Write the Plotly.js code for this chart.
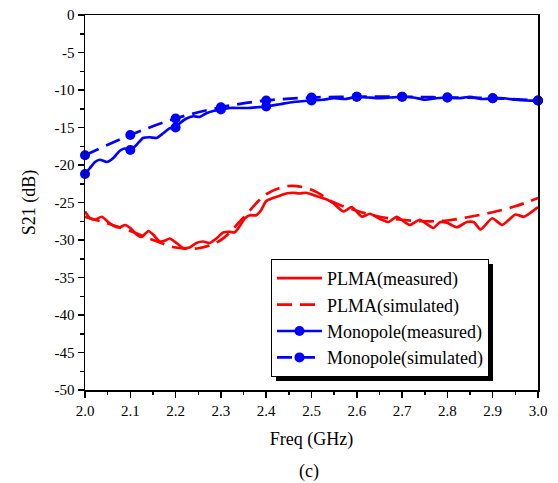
<!DOCTYPE html>
<html>
<head>
<meta charset="utf-8">
<script src="https://cdn.plot.ly/plotly-3.0.1.min.js"></script>
<style>html,body{margin:0;padding:0;background:#fff;}#chart{width:558px;height:483px;}</style>
</head>
<body>
<div id="chart"></div>
<script>
// PLMA measured (dense, ripple)
var plmaMeasF = [2.000,2.011,2.022,2.037,2.051,2.066,2.077,2.088,2.100,2.114,2.125,2.140,2.151,2.165,2.176,2.187,2.202,2.217,2.231,2.246,2.261,2.275,2.290,2.305,2.319,2.330,2.341,2.353,2.364,2.378,2.389,2.400,2.415,2.430,2.444,2.459,2.474,2.488,2.504,2.534,2.548,2.570,2.589,2.611,2.629,2.651,2.670,2.688,2.717,2.739,2.769,2.784,2.799,2.821,2.843,2.858,2.873,2.899,2.921,2.950,2.969,3.000];
var plmaMeasS = [-26.2,-27.1,-27.3,-26.9,-27.6,-28.2,-28.3,-28.0,-28.4,-29.3,-29.6,-28.8,-29.3,-30.2,-30.1,-29.8,-30.4,-31.1,-31.0,-30.4,-30.2,-30.4,-29.8,-29.0,-28.9,-29.0,-28.2,-27.1,-26.7,-26.7,-26.0,-24.8,-24.4,-24.1,-23.8,-23.7,-23.8,-23.7,-24.0,-24.6,-25.1,-26.2,-25.6,-26.9,-26.5,-27.2,-27.6,-26.9,-28.0,-27.3,-28.4,-27.6,-27.7,-28.3,-27.6,-27.6,-28.6,-27.1,-28.0,-26.6,-26.9,-25.6];

// PLMA simulated
var plmaSimF = [2.00,2.05,2.10,2.15,2.20,2.25,2.30,2.35,2.40,2.45,2.50,2.55,2.60,2.65,2.70,2.75,2.80,2.85,2.90,2.95,3.00];
var plmaSimS = [-26.9,-27.8,-28.8,-30.0,-31.0,-31.1,-30.0,-27.0,-23.9,-22.8,-23.3,-25.0,-26.1,-26.9,-27.3,-27.5,-27.4,-26.9,-26.3,-25.5,-24.4];

// Monopole measured (dense)
var monoMeasF = [2.000,2.011,2.022,2.033,2.048,2.062,2.077,2.088,2.100,2.114,2.128,2.143,2.158,2.172,2.187,2.200,2.210,2.224,2.239,2.253,2.268,2.283,2.300,2.320,2.340,2.360,2.380,2.400,2.430,2.460,2.500,2.525,2.550,2.575,2.600,2.625,2.650,2.675,2.700,2.725,2.750,2.775,2.800,2.825,2.850,2.875,2.900,2.925,2.950,2.975,3.000];
var monoMeasS = [-21.2,-20.4,-19.6,-19.3,-19.6,-19.1,-18.1,-17.8,-18.0,-17.3,-16.4,-16.3,-16.4,-15.8,-15.1,-15.0,-14.4,-13.8,-13.5,-13.6,-13.1,-12.8,-12.6,-12.4,-12.4,-12.4,-12.3,-12.2,-11.9,-11.6,-11.4,-11.3,-11.1,-11.2,-10.9,-11.0,-11.1,-11.0,-10.9,-11.0,-11.3,-11.1,-11.0,-11.1,-10.9,-11.2,-11.1,-11.1,-11.3,-11.4,-11.4];

// Monopole simulated
var monoSimF = [2.0,2.1,2.2,2.3,2.4,2.5,2.6,2.7,2.8,2.9,3.0];
var monoSimS = [-18.7,-16.0,-13.8,-12.3,-11.4,-11.0,-10.9,-10.9,-11.0,-11.1,-11.4];

var xTicks = [2.0,2.1,2.2,2.3,2.4,2.5,2.6,2.7,2.8,2.9,3.0];
var yTicks = [0,-5,-10,-15,-20,-25,-30,-35,-40,-45,-50];

var RED = '#ff0000', BLUE = '#0000ff';
var FONT = '"Liberation Serif", "Times New Roman", serif';

function markerColors(freqs) {
  return freqs.map(function (f) {
    return Math.abs(f * 10 - Math.round(f * 10)) < 1e-6 ? BLUE : 'rgba(0,0,255,0)';
  });
}

var LW = 2.7;
var traces = [
  {x: plmaMeasF, y: plmaMeasS, name: 'PLMA(measured)', mode: 'lines',
   line: {color: RED, width: LW, shape: 'spline', smoothing: 0.5}},
  {x: plmaSimF, y: plmaSimS, name: 'PLMA(simulated)', mode: 'lines',
   line: {color: RED, width: LW, dash: '15px,8px', shape: 'spline'}},
  {x: monoMeasF, y: monoMeasS, name: 'Monopole(measured)', mode: 'lines+markers', cliponaxis: false,
   line: {color: BLUE, width: LW, shape: 'spline', smoothing: 0.5},
   marker: {size: 10, color: markerColors(monoMeasF), line: {width: 0}}},
  {x: monoSimF, y: monoSimS, name: 'Monopole(simulated)', mode: 'lines+markers', cliponaxis: false,
   line: {color: BLUE, width: LW, dash: '15px,8px', shape: 'spline'},
   marker: {size: 10, color: BLUE, line: {width: 0}}}
];

var W = 558, H = 483, L = 85, R = 20, T = 15, B = 93;
var pw = W - L - R, ph = H - T - B;
function px(xp) { return (xp - L) / pw; }
function py(yp) { return (H - B - yp) / ph; }

var layout = {
  width: W, height: H,
  margin: {l: L, r: R, t: T, b: B, pad: 0},
  paper_bgcolor: '#fff', plot_bgcolor: '#fff',
  font: {family: FONT, size: 15, color: '#000'},
  showlegend: true,
  xaxis: {
    range: [2, 3], tickvals: xTicks, ticktext: xTicks.map(function (v) { return v.toFixed(1); }),
    ticks: 'outside', ticklen: 6, tickwidth: 1.5, tickcolor: '#000',
    minor: {dtick: 0.05, tick0: 2, ticks: 'outside', ticklen: 3.5, tickwidth: 1.5, tickcolor: '#000'},
    showline: true, linecolor: '#000', linewidth: 1.5, mirror: true,
    showgrid: false, zeroline: false,
    tickfont: {family: FONT, size: 15},
    title: {text: 'Freq (GHz)', font: {family: FONT, size: 18}, standoff: 15}
  },
  yaxis: {
    range: [-50, 0], tickvals: yTicks, ticktext: yTicks.map(function (v) { return String(v); }),
    ticks: 'outside', ticklen: 6, tickwidth: 1.5, tickcolor: '#000',
    minor: {dtick: 2.5, tick0: 0, ticks: 'outside', ticklen: 3.5, tickwidth: 1.5, tickcolor: '#000'},
    showline: true, linecolor: '#000', linewidth: 1.5, mirror: true,
    showgrid: false, zeroline: false,
    tickfont: {family: FONT, size: 15},
    title: {text: 'S21 (dB)', font: {family: FONT, size: 18}, standoff: 14}
  },
  legend: {
    x: px(271), y: py(259), xanchor: 'left', yanchor: 'top',
    bgcolor: '#fff', bordercolor: '#000', borderwidth: 1,
    font: {family: FONT, size: 18, color: '#000'},
    tracegroupgap: 0, itemwidth: 45
  },
  annotations: [
    {text: '(c)', xref: 'paper', yref: 'paper', x: px(309), y: py(472), xanchor: 'center', yanchor: 'middle',
     showarrow: false, font: {family: FONT, size: 18, color: '#000'}}
  ]
};

function addShadow(gd) {
  try {
    var leg = gd.querySelector('g.legend');
    if (!leg) return;
    var bg = leg.querySelector('rect.bg') || leg.querySelector('rect');
    if (!bg) return;
    var sh = bg.cloneNode(false);
    sh.setAttribute('class', 'legshadow');
    sh.style.fill = '#000';
    sh.style.fillOpacity = '1';
    sh.style.stroke = 'none';
    var t = bg.getAttribute('transform') || '';
    sh.setAttribute('transform', t + ' translate(4,4)');
    bg.parentNode.insertBefore(sh, bg);
  } catch (e) {}
}

Plotly.newPlot('chart', traces, layout, {displayModeBar: false, staticPlot: true}).then(function (gd) {
  addShadow(gd || document.getElementById('chart'));
});
</script>
</body>
</html>
